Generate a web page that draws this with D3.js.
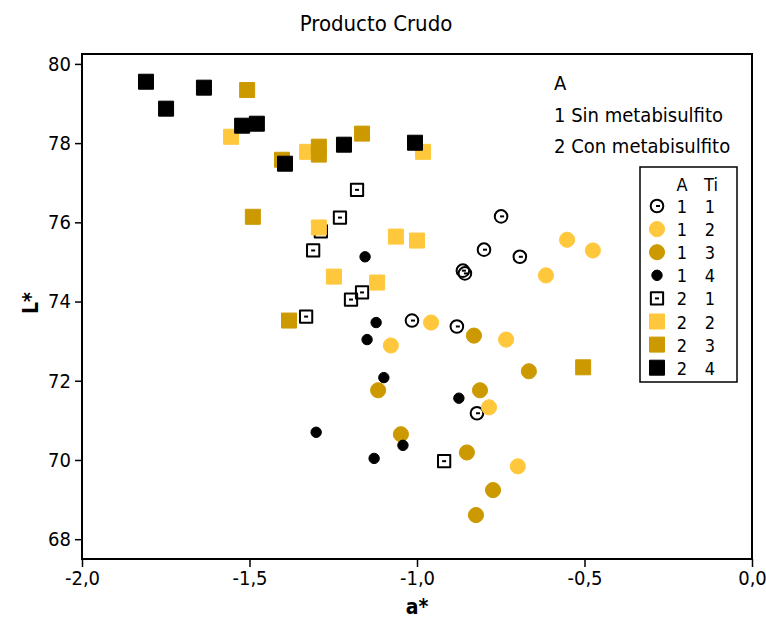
<!DOCTYPE html>
<html>
<head>
<meta charset="utf-8">
<script src="https://cdn.jsdelivr.net/npm/d3@7"></script>
<style>
  body { margin: 0; background: #fff; }
  text { font-family: "DejaVu Sans Condensed", "DejaVu Sans", sans-serif; fill: #000; }
</style>
</head>
<body>
<div id="chart"></div>
<script>
// group keys (A, Ti) as shown in the legend
const aCodes = ["1", "1", "1", "1", "2", "2", "2", "2"]
const tiCodes = ["1", "2", "3", "4", "1", "2", "3", "4"]

// a* values per group
const a11 = [-0.749, -0.800, -0.693, -0.863, -0.857, -1.015, -0.881, -0.821]
const a12 = [-0.552, -0.475, -0.615, -0.958, -0.734, -1.078, -0.785, -0.699]
const a13 = [-0.830, -0.666, -1.116, -0.812, -1.048, -0.851, -0.773, -0.824]
const a14 = [-1.155, -1.122, -1.149, -1.099, -0.875, -1.301, -1.042, -1.128]
const a21 = [-1.179, -1.230, -1.287, -1.310, -1.164, -1.197, -1.331, -0.919]
const a22 = [-1.555, -1.328, -0.982, -1.293, -1.063, -1.000, -1.248, -1.119]
const a23 = [-1.507, -1.403, -1.293, -1.293, -1.164, -1.490, -1.382, -0.504]
const a24 = [-1.809, -1.749, -1.636, -1.522, -1.478, -1.394, -1.218, -1.006]

// L* values per group
const L11 = [76.15, 75.31, 75.13, 74.78, 74.71, 73.52, 73.37, 71.18]
const L12 = [75.56, 75.29, 74.66, 73.47, 73.04, 72.89, 71.33, 69.84]
const L13 = [73.14, 72.24, 71.76, 71.76, 70.65, 70.19, 69.24, 68.61]
const L14 = [75.13, 73.47, 73.04, 72.08, 71.56, 70.70, 70.37, 70.04]
const L21 = [76.82, 76.12, 75.77, 75.29, 74.23, 74.05, 73.62, 69.97]
const L22 = [78.16, 77.78, 77.78, 75.87, 75.64, 75.54, 74.63, 74.48]
const L23 = [79.34, 77.58, 77.91, 77.71, 78.24, 76.14, 73.52, 72.34]
const L24 = [79.55, 78.87, 79.40, 78.44, 78.49, 77.48, 77.96, 78.01]

const xTicks = [-2, -1.5, -1, -0.5, 0]
const yTicks = [68, 70, 72, 74, 76, 78, 80]
const legendLines = ["A", "1 Sin metabisulfito", "2 Con metabisulfito"]

const aValues = [a11, a12, a13, a14, a21, a22, a23, a24]
const LValues = [L11, L12, L13, L14, L21, L22, L23, L24]

// marker style per group
const LIGHT = "#FFC83C"
const DARK = "#CC9A00"
const styles = [
  { shape: "circle", fill: "none", size: 125, open: true },
  { shape: "circle", fill: LIGHT, size: 180 },
  { shape: "circle", fill: DARK, size: 180 },
  { shape: "circle", fill: "#000", size: 85 },
  { shape: "square", fill: "none", size: 150, open: true },
  { shape: "square", fill: LIGHT, size: 225 },
  { shape: "square", fill: DARK, size: 225 },
  { shape: "square", fill: "#000", size: 225 }
]

const groups = aCodes.map((a, i) => ({
  a: a, ti: tiCodes[i], style: styles[i],
  points: aValues[i].map((v, j) => ({ x: v, y: LValues[i][j] }))
}))

const WIDTH = 766
const HEIGHT = 619

const svg = d3.select("#chart").append("svg")
  .attr("width", WIDTH)
  .attr("height", HEIGHT)

const x = d3.scaleLinear().domain([-2, 0]).range([82, 752])
const y = d3.scaleLinear().domain([67.5, 80.25]).range([559, 54])

const drawMarker = (g, st, cx, cy) => {
  const sym = d3.symbol()
    .type(st.shape === "circle" ? d3.symbolCircle : d3.symbolSquare)
    .size(st.size)
  g.append("path")
    .attr("d", sym())
    .attr("transform", `translate(${cx},${cy})`)
    .attr("fill", st.fill)
    .attr("stroke", st.open ? "#000" : (st.fill === "#000" ? "#000" : st.fill))
    .attr("stroke-width", st.open ? 2 : 1)
    .attr("stroke-linejoin", "round")
  if (st.open) {
    // the little dash Minitab leaves inside the open markers
    const dx = st.shape === "circle" ? 1 : 0
    g.append("line")
      .attr("x1", cx - 2 + dx).attr("x2", cx + 2 + dx)
      .attr("y1", cy).attr("y2", cy)
      .attr("stroke", "#000").attr("stroke-width", 2)
  }
}

// title
svg.append("text")
  .attr("x", 376).attr("y", 31)
  .attr("text-anchor", "middle")
  .style("font-size", "22px")
  .text("Producto Crudo")

// axes
const xAxis = svg.append("g")
  .attr("transform", "translate(0,559)")
  .call(d3.axisBottom(x).tickValues(xTicks).tickSize(8).tickPadding(4)
    .tickFormat(d => d.toFixed(1).replace(".", ",")))
const yAxis = svg.append("g")
  .attr("transform", "translate(82,0)")
  .call(d3.axisLeft(y).tickValues(yTicks).tickSize(7).tickPadding(4)
    .tickFormat(d3.format("d")))

for (const ax of [xAxis, yAxis]) {
  ax.attr("font-family", null).attr("font-size", null)
  ax.select(".domain").remove()
  ax.selectAll(".tick line").attr("stroke", "#000").attr("stroke-width", 1.5)
  ax.selectAll(".tick text").style("font-size", "20px")
}

// frame
svg.append("rect")
  .attr("x", 82).attr("y", 54)
  .attr("width", 670).attr("height", 505)
  .attr("fill", "none")
  .attr("stroke", "#000")
  .attr("stroke-width", 2)

// axis labels
svg.append("text")
  .attr("x", 417).attr("y", 614)
  .attr("text-anchor", "middle")
  .style("font-size", "21px").style("font-weight", "bold")
  .text("a*")
svg.append("text")
  .attr("transform", "translate(38,303) rotate(-90)")
  .attr("text-anchor", "middle")
  .style("font-size", "21px").style("font-weight", "bold")
  .text("L*")

// points
const plotG = svg.append("g")
groups.forEach(grp => {
  grp.points.forEach(p => drawMarker(plotG, grp.style, x(p.x), y(p.y)))
})

// text legend
svg.selectAll(".note")
  .data(legendLines)
  .enter()
  .append("text")
  .attr("class", "note")
  .attr("x", 554)
  .attr("y", (d, i) => 90 + i * 31.5)
  .style("font-size", "20px")
  .text(d => d)

// symbol legend
const leg = svg.append("g")
leg.append("rect")
  .attr("x", 640).attr("y", 167)
  .attr("width", 97).attr("height", 215)
  .attr("fill", "#fff")
  .attr("stroke", "#000")
  .attr("stroke-width", 1.5)
leg.append("text").attr("x", 682).attr("y", 191).attr("text-anchor", "middle")
  .style("font-size", "18px").text("A")
leg.append("text").attr("x", 711).attr("y", 191).attr("text-anchor", "middle")
  .style("font-size", "18px").text("Ti")
groups.forEach((grp, i) => {
  const cy = 206 + i * 23.1
  drawMarker(leg, grp.style, 657, cy)
  leg.append("text").attr("x", 682).attr("y", cy + 7).attr("text-anchor", "middle")
    .style("font-size", "18px").text(grp.a)
  leg.append("text").attr("x", 710).attr("y", cy + 7).attr("text-anchor", "middle")
    .style("font-size", "18px").text(grp.ti)
})
</script>
</body>
</html>
